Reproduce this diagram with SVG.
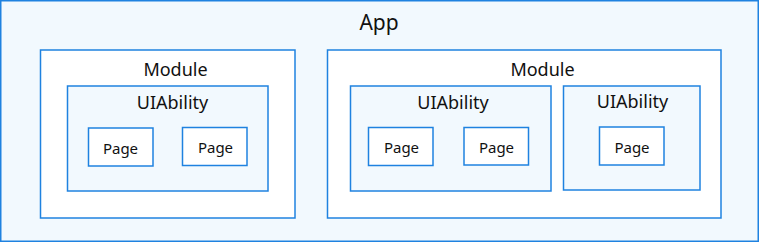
<svg xmlns="http://www.w3.org/2000/svg" width="760" height="243" viewBox="0 0 760 243">
<style>
rect{stroke:#1f82e0;stroke-width:1.5}
.app{fill:#f2f9fe}
.mod{fill:#ffffff}
.ab{fill:#f2f9fe}
.pg{fill:#ffffff}
text{font-family:"Noto Sans","Liberation Sans",sans-serif;fill:#111;text-anchor:middle}
.t1{font-size:21px}
.t2{font-size:18px}
.t3{font-size:15px}
</style>
<g id="app"><rect class="app" x="0.75" y="0.75" width="757.5" height="240.5"/><text class="t1" x="379" y="30">App</text></g>
<g id="module1"><rect class="mod" x="40.5" y="50" width="254.5" height="168"/><text class="t2" x="175.5" y="76">Module</text></g>
<g id="uiability1"><rect class="ab" x="67.5" y="86" width="200.5" height="105"/><text class="t2" x="172.5" y="109">UIAbility</text></g>
<g id="page1"><rect class="pg" x="88.5" y="128" width="64.5" height="38"/><text class="t3" x="120.5" y="153.5">Page</text></g>
<g id="page2"><rect class="pg" x="182.5" y="127.5" width="64.5" height="38"/><text class="t3" x="215.5" y="153">Page</text></g>
<g id="module2"><rect class="mod" x="327.5" y="50" width="393.5" height="168"/><text class="t2" x="542.5" y="76">Module</text></g>
<g id="uiability2"><rect class="ab" x="350.5" y="86" width="200.5" height="105"/><text class="t2" x="453" y="109">UIAbility</text></g>
<g id="uiability3"><rect class="ab" x="563.5" y="86" width="136.5" height="104"/><text class="t2" x="632.5" y="108">UIAbility</text></g>
<g id="page3"><rect class="pg" x="368.5" y="127.5" width="64.5" height="38"/><text class="t3" x="401.5" y="153">Page</text></g>
<g id="page4"><rect class="pg" x="464" y="127.5" width="64.5" height="37.5"/><text class="t3" x="496.5" y="153">Page</text></g>
<g id="page5"><rect class="pg" x="599.5" y="127" width="64.5" height="38"/><text class="t3" x="632" y="152.5">Page</text></g>
<g id="connectors"/>
</svg>
